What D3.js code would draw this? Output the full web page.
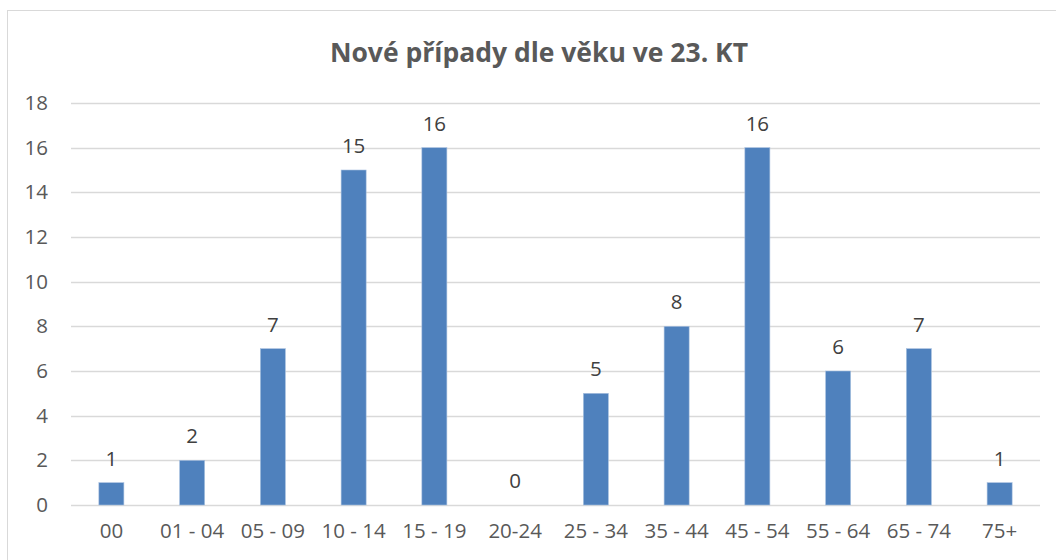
<!DOCTYPE html>
<html>
<head>
<meta charset="utf-8">
<script src="https://cdn.jsdelivr.net/npm/d3@7"></script>
<style>
body { margin: 0; background: #fff; overflow: hidden; }
text { font-family: "Open Sans", sans-serif; }
</style>
</head>
<body>
<script>
// data
var categories = ["00", "01 - 04", "05 - 09", "10 - 14", "15 - 19", "20-24", "25 - 34", "35 - 44", "45 - 54", "55 - 64", "65 - 74", "75+"];
var cases = [1, 2, 7, 15, 16, 0, 5, 8, 16, 6, 7, 1];
var yTicks = [0, 2, 4, 6, 8, 10, 12, 14, 16, 18];
var title = "Nové případy dle věku ve 23. KT";

var W = 1056, H = 560;
var margin = {top: 103, right: 16, bottom: 55, left: 71},
    width = W - margin.left - margin.right,
    height = H - margin.top - margin.bottom;

var svg = d3.select("body").append("svg")
    .attr("width", W)
    .attr("height", H)
    .style("display", "block");

// chart frame (runs off the right and bottom edge, like the screenshot)
svg.append("rect")
    .attr("x", 7.5).attr("y", 10.5)
    .attr("width", W + 20).attr("height", H + 20)
    .attr("fill", "none")
    .attr("stroke", "#d9d9d9");

svg.append("text")
    .attr("x", 539)
    .attr("y", 62)
    .attr("text-anchor", "middle")
    .attr("font-size", "26.5px")
    .attr("font-weight", "bold")
    .attr("fill", "#595959")
    .text(title);

var g = svg.append("g")
    .attr("transform", "translate(" + margin.left + "," + margin.top + ")");

var xScale = d3.scaleBand().domain(categories).range([0, width]).paddingInner(0.69).paddingOuter(0.345);
var yScale = d3.scaleLinear().domain([0, 18]).range([height, 0]);

// gridlines
g.selectAll(".grid")
    .data(yTicks)
    .enter()
    .append("line")
    .attr("x1", 0).attr("x2", width)
    .attr("y1", function(d) { return Math.round(yScale(d)) + 0.5; })
    .attr("y2", function(d) { return Math.round(yScale(d)) + 0.5; })
    .attr("stroke", "#d9d9d9")
    .attr("stroke-width", 1.5);

// y axis labels
var yAxis = d3.axisLeft(yScale).tickValues(yTicks).tickSize(0).tickPadding(23);
var gy = g.append("g").call(yAxis);
gy.select(".domain").remove();
gy.selectAll("text")
    .attr("font-size", "20.5px")
    .attr("fill", "#595959")
    .style("font-family", "'Open Sans', sans-serif");

// x axis labels
var xAxis = d3.axisBottom(xScale).tickSize(0).tickPadding(18);
var gx = g.append("g")
    .attr("transform", "translate(0," + height + ")")
    .call(xAxis);
gx.select(".domain").remove();
gx.selectAll("text")
    .attr("font-size", "20.5px")
    .attr("fill", "#595959")
    .style("font-family", "'Open Sans', sans-serif");

// bars
g.selectAll(".bar")
    .data(cases)
    .enter()
    .append("rect")
    .attr("class", "bar")
    .attr("x", function(d, i) { return xScale(categories[i]); })
    .attr("y", function(d) { return yScale(d); })
    .attr("width", xScale.bandwidth())
    .attr("height", function(d) { return height - yScale(d); })
    .attr("fill", "#4f81bd")
    .attr("stroke", "#a9c1e0")
    .attr("stroke-width", 0.6);

// value labels
g.selectAll(".label")
    .data(cases)
    .enter()
    .append("text")
    .attr("class", "label")
    .attr("x", function(d, i) { return xScale(categories[i]) + xScale.bandwidth() / 2; })
    .attr("y", function(d) { return yScale(d) - 17; })
    .attr("text-anchor", "middle")
    .attr("font-size", "20.5px")
    .attr("fill", "#404040")
    .text(function(d) { return d; });
</script>
</body>
</html>
